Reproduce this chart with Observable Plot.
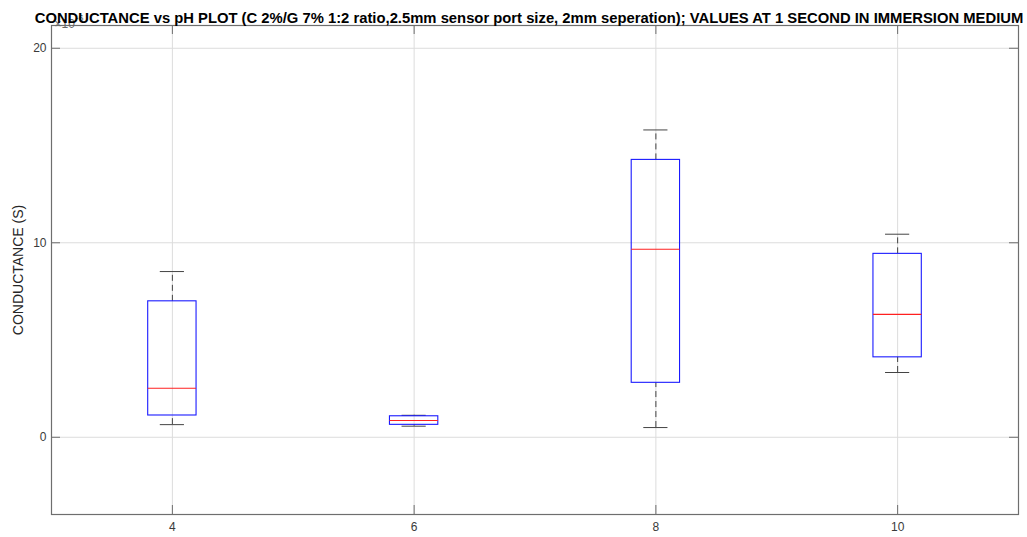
<!DOCTYPE html>
<html>
<head>
<meta charset="utf-8">
<script src="https://cdn.jsdelivr.net/npm/d3@7"></script>
<script src="https://cdn.jsdelivr.net/npm/@observablehq/plot@0.6"></script>
<style>
  html, body { margin: 0; padding: 0; background: #fff; }
  svg { display: block; }
</style>
</head>
<body>
<div id="chart"></div>
<script>
// pH groups (x positions)
const phValues = [4, 6, 8, 10];
// Conductance statistics, in units of 1e-6 S (axis shows ×10^-6)
const whiskerLow  = [0.65, 0.57, 0.50, 3.33];
const quartile1   = [1.12, 0.64, 2.80, 4.11];
const medians     = [2.52, 0.86, 9.67, 6.32];
const quartile3   = [6.99, 1.08, 14.26, 9.43];
const whiskerHigh = [8.52, 1.13, 15.80, 10.44];

const xTicks = [4, 6, 8, 10];
const yTicks = [0, 10, 20];

const titleText = "CONDUCTANCE vs pH PLOT (C 2%/G 7% 1:2 ratio,2.5mm sensor port size, 2mm seperation); VALUES AT 1 SECOND IN IMMERSION MEDIUM";
const yLabel = "CONDUCTANCE (S)";
const exponentBase = "×10";
const exponentPower = "-6";

const boxes = phValues.map((ph, i) => ({
  ph,
  lo: whiskerLow[i], q1: quartile1[i], med: medians[i], q3: quartile3[i], hi: whiskerHigh[i]
}));

const W = 1027, H = 537;
const mL = 51, mR = 9, mT = 25, mB = 23;
const frameW = W - mL - mR, frameH = H - mT - mB;
const tick = 9;
const boxHalf = 0.2, capHalf = 0.1;
const axisColor = "#6e6e6e";
const textColor = "#3a3a3a";

const chart = Plot.plot({
  width: W,
  height: H,
  marginLeft: mL,
  marginRight: mR,
  marginTop: mT,
  marginBottom: mB,
  style: {fontFamily: "'Liberation Sans', Arial, Helvetica, sans-serif", fontSize: "12px", color: textColor, background: "#fff"},
  x: {domain: [3, 11], ticks: xTicks, label: null},
  y: {domain: [-3.97, 21.17], ticks: yTicks, label: null},
  marks: [
    Plot.gridX(xTicks, {stroke: "#dcdcdc", strokeOpacity: 1}),
    Plot.gridY(yTicks, {stroke: "#dcdcdc", strokeOpacity: 1}),
    // inward ticks
    Plot.tickX(xTicks, {x: d => d, insetTop: frameH - tick, stroke: axisColor}),
    Plot.tickX(xTicks, {x: d => d, insetBottom: frameH - tick, stroke: axisColor}),
    Plot.tickY(yTicks, {y: d => d, insetRight: frameW - tick, stroke: axisColor}),
    Plot.tickY(yTicks, {y: d => d, insetLeft: frameW - tick, stroke: axisColor}),
    Plot.axisX({ticks: xTicks, tickSize: 0, tickPadding: 8, fontSize: 12, fill: textColor}),
    Plot.axisY({ticks: yTicks, tickSize: 0, tickPadding: 5, fontSize: 12, fill: textColor}),
    Plot.frame({stroke: axisColor, strokeWidth: 1.2}),
    // whiskers (dashed)
    Plot.ruleX(boxes, {x: "ph", y1: "q3", y2: "hi", stroke: "#444", strokeDasharray: "6,4"}),
    Plot.ruleX(boxes, {x: "ph", y1: "lo", y2: "q1", stroke: "#444", strokeDasharray: "6,4"}),
    // caps
    Plot.ruleY(boxes, {y: "hi", x1: d => d.ph - capHalf, x2: d => d.ph + capHalf, stroke: "#444"}),
    Plot.ruleY(boxes, {y: "lo", x1: d => d.ph - capHalf, x2: d => d.ph + capHalf, stroke: "#444"}),
    // boxes
    Plot.rect(boxes, {x1: d => d.ph - boxHalf, x2: d => d.ph + boxHalf, y1: "q1", y2: "q3", fill: "none", stroke: "#1a1aff", strokeWidth: 1.1}),
    // medians
    Plot.ruleY(boxes, {y: "med", x1: d => d.ph - boxHalf, x2: d => d.ph + boxHalf, stroke: "#ff2020", strokeWidth: 1.1}),
    // exponent label
    Plot.text([exponentBase], {frameAnchor: "top-left", dx: 3, dy: -6, textAnchor: "start", fontSize: 12, fill: "#666"}),
    Plot.text([exponentPower], {frameAnchor: "top-left", dx: 24, dy: -11, textAnchor: "start", fontSize: 9, fill: "#666"}),
    // y label
    Plot.text([yLabel], {frameAnchor: "left", dx: -33, rotate: -90, textAnchor: "middle", fontSize: 14, fill: "#262626"}),
    // title
    Plot.text([titleText], {frameAnchor: "top", dx: -6, dy: -13, fontSize: 14.8, fontWeight: "bold", fill: "#000"})
  ]
});

document.getElementById("chart").appendChild(chart);
</script>
</body>
</html>
